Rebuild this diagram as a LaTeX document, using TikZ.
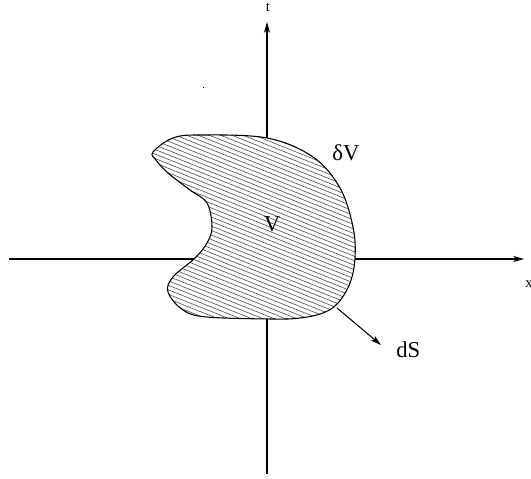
\documentclass[tikz,border=0pt]{standalone}
\usepackage{fontspec}
\setmainfont{Liberation Serif}
\usetikzlibrary{arrows.meta}
\begin{document}
\begin{tikzpicture}[x=0.75pt,y=-0.75pt,
  axis/.style={line width=0.8pt,-{Stealth[length=8pt,width=4.5pt,inset=2pt]}},
  outline/.style={line width=0.8pt},
  hatch/.style={line width=0.45pt,black!70},
  biglabel/.style={font=\fontsize{17}{20}\selectfont,inner sep=0pt},
  smalllabel/.style={font=\fontsize{11}{13}\selectfont,inner sep=0pt}]
\useasboundingbox (0,0) rectangle (531,478);
\def\blobpath{plot[smooth cycle, tension=0.6] coordinates {(153,152) (173,138) (200,135) (267,138) (313,157) (340,188) (353,227) (355,258) (350,283) (338,303) (323,313) (300,318) (273,319) (207,317) (183,310) (168,292) (173,277) (195,258) (207,243) (212,227) (207,203) (190,190) (168,173) (156,160)}}
% axes
\coordinate (xs) at (9,259);
\coordinate (xe) at (524,259);
\coordinate (ts) at (267,474);
\coordinate (te) at (267,22);
\draw[axis] (xs) -- (xe);
\draw[axis] (ts) -- (te);
\node[smalllabel] (tl) at (268,7) {t};
\node[smalllabel] (xl) at (529,284) {x};
% region
\fill[white] \blobpath;
\begin{scope}
  \clip \blobpath;
  \foreach \k in {0,...,66} {\draw[hatch] (140,{40+4.5*\k}) -- ++(240,96);}
\end{scope}
\draw[outline] \blobpath;
\node[biglabel] (V) at (272,224) {V};
\node[biglabel] (dV) at (346,153) {δV};
% normal
\coordinate (ns) at (337,308);
\coordinate (ne) at (381,345);
\draw[axis] (ns) -- (ne);
\node[biglabel,anchor=west] (dS) at (396,350) {dS};
% stray dot
\fill (202.5,86.5) rectangle (204,88);
\end{tikzpicture}
\end{document}
